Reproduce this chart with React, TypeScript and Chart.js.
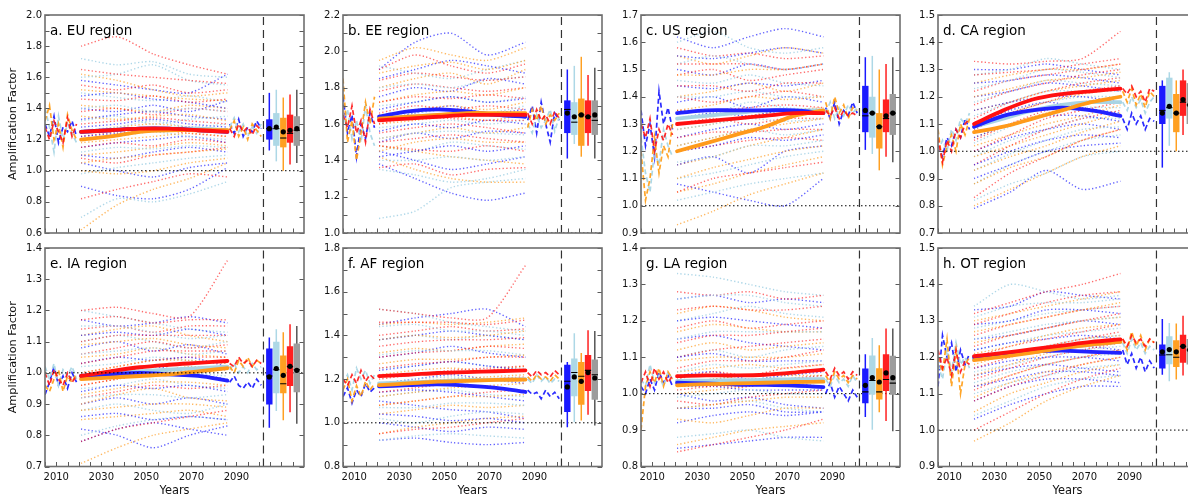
import React, { useEffect, useRef } from 'react';
import { Chart, registerables } from 'chart.js';
Chart.register(...registerables);

const FONT = '"DejaVu Sans", "Liberation Sans", sans-serif';

// ---------- shared axes / years ----------
const ENS_YEARS = [2021, 2037, 2053, 2069, 2086];
const MEAN_YEARS = [2021, 2034, 2047, 2060, 2073, 2086];
const PAST_YEARS = [2005, 2007, 2009, 2011, 2013, 2015, 2017, 2019];
const FUTURE_YEARS = [2087, 2089, 2091, 2093, 2095, 2097, 2099, 2101];
const BOX_YEARS = [2104.6, 2107.7, 2110.8, 2113.8, 2116.8];
const X_LABEL_YEARS = [2010, 2030, 2050, 2070, 2090];
const X_MIN = 2005;
const X_MAX = 2120;
const SPLIT_YEAR = 2102;

const TITLES = ['a. EU region', 'b. EE region', 'c. US region', 'd. CA region', 'e. IA region', 'f. AF region', 'g. LA region', 'h. OT region'];
const Y_MIN = [0.6, 1.0, 0.9, 0.7, 0.7, 0.8, 0.8, 0.9];
const Y_MAX = [2.0, 2.2, 1.7, 1.5, 1.4, 1.8, 1.4, 1.5];
const Y_LABEL_STEP = [0.2, 0.2, 0.1, 0.1, 0.1, 0.2, 0.1, 0.1];

// ---------- a. EU ----------
const EU_BLUE = [[1.58, 1.55, 1.52, 1.50, 1.62], [1.40, 1.38, 1.42, 1.38, 1.45], [1.28, 1.30, 1.33, 1.30, 1.28], [1.15, 1.18, 1.20, 1.22, 1.18], [1.05, 1.00, 0.96, 1.02, 1.05], [0.90, 0.84, 0.82, 0.88, 1.02], [1.48, 1.50, 1.46, 1.44, 1.40], [1.33, 1.36, 1.38, 1.35, 1.33], [1.22, 1.24, 1.26, 1.28, 1.25], [1.10, 1.08, 1.12, 1.15, 1.12]];
const EU_LBLUE = [[1.72, 1.68, 1.70, 1.62, 1.60], [1.50, 1.47, 1.45, 1.48, 1.44], [1.32, 1.35, 1.30, 1.33, 1.35], [1.20, 1.22, 1.25, 1.22, 1.20], [0.98, 1.02, 1.05, 1.08, 1.10], [0.70, 0.82, 0.80, 0.85, 0.93], [1.60, 1.62, 1.68, 1.58, 1.55], [1.40, 1.42, 1.38, 1.40, 1.38], [1.26, 1.28, 1.32, 1.28, 1.30], [1.12, 1.15, 1.14, 1.16, 1.15]];
const EU_ORANGE = [[1.62, 1.58, 1.52, 1.48, 1.50], [1.42, 1.40, 1.38, 1.42, 1.40], [1.25, 1.28, 1.30, 1.28, 1.25], [1.10, 1.12, 1.15, 1.18, 1.16], [1.00, 0.98, 1.00, 1.05, 1.08], [0.62, 0.78, 0.88, 0.95, 1.05], [1.52, 1.50, 1.48, 1.46, 1.45], [1.35, 1.33, 1.35, 1.36, 1.32], [1.18, 1.20, 1.22, 1.24, 1.22], [1.05, 1.08, 1.10, 1.12, 1.14]];
const EU_RED = [[1.80, 1.86, 1.75, 1.68, 1.62], [1.55, 1.52, 1.55, 1.50, 1.52], [1.38, 1.40, 1.36, 1.40, 1.38], [1.22, 1.25, 1.27, 1.24, 1.22], [1.08, 1.05, 1.10, 1.12, 1.15], [0.82, 0.88, 0.93, 0.98, 0.96], [1.65, 1.62, 1.60, 1.58, 1.56], [1.46, 1.45, 1.48, 1.44, 1.46], [1.30, 1.32, 1.34, 1.32, 1.30], [1.15, 1.18, 1.16, 1.20, 1.18]];
const EU_MEANS = [[1.25, 1.26, 1.27, 1.27, 1.26, 1.25], [1.25, 1.26, 1.27, 1.27, 1.27, 1.26], [1.20, 1.22, 1.25, 1.26, 1.26, 1.26], [1.25, 1.26, 1.27, 1.27, 1.26, 1.25]];
const EU_PAST = [[1.30, 1.22, 1.35, 1.18, 1.28, 1.25, 1.32, 1.22], [1.40, 1.28, 1.12, 1.35, 1.20, 1.30, 1.24, 1.18], [1.32, 1.42, 1.20, 1.30, 1.15, 1.36, 1.26, 1.20], [1.28, 1.20, 1.32, 1.25, 1.18, 1.34, 1.22, 1.30]];
const EU_FUTURE = [[1.30, 1.24, 1.33, 1.22, 1.28, 1.25, 1.32, 1.27], [1.28, 1.34, 1.25, 1.30, 1.22, 1.28, 1.24, 1.30], [1.26, 1.32, 1.22, 1.28, 1.20, 1.30, 1.26, 1.22], [1.27, 1.22, 1.30, 1.25, 1.28, 1.23, 1.29, 1.26]];
const EU_BOXES = [[1.13, 1.20, 1.27, 1.33, 1.50, 1.27], [1.06, 1.16, 1.27, 1.37, 1.52, 1.28], [1.00, 1.15, 1.21, 1.34, 1.47, 1.25], [1.04, 1.18, 1.24, 1.36, 1.49, 1.26], [1.05, 1.16, 1.26, 1.35, 1.52, 1.27]];

// ---------- b. EE ----------
const EE_BLUE = [[1.90, 2.05, 2.10, 1.98, 2.05], [1.75, 1.80, 1.78, 1.85, 1.82], [1.62, 1.66, 1.70, 1.66, 1.68], [1.50, 1.55, 1.52, 1.56, 1.55], [1.45, 1.40, 1.35, 1.38, 1.42], [1.38, 1.30, 1.22, 1.18, 1.22], [1.85, 1.90, 1.95, 1.92, 1.88], [1.68, 1.72, 1.75, 1.72, 1.74], [1.56, 1.60, 1.58, 1.62, 1.60], [1.42, 1.45, 1.48, 1.45, 1.48]];
const EE_LBLUE = [[1.92, 1.88, 1.85, 1.90, 1.95], [1.70, 1.72, 1.75, 1.72, 1.75], [1.58, 1.60, 1.62, 1.60, 1.62], [1.48, 1.45, 1.50, 1.48, 1.46], [1.35, 1.32, 1.28, 1.30, 1.35], [1.08, 1.12, 1.25, 1.28, 1.30], [1.80, 1.82, 1.80, 1.84, 1.86], [1.65, 1.66, 1.68, 1.66, 1.70], [1.52, 1.55, 1.56, 1.55, 1.54], [1.40, 1.40, 1.42, 1.40, 1.42]];
const EE_ORANGE = [[1.95, 2.02, 1.98, 1.95, 2.02], [1.80, 1.85, 1.88, 1.82, 1.90], [1.65, 1.68, 1.70, 1.68, 1.72], [1.52, 1.55, 1.58, 1.55, 1.58], [1.48, 1.45, 1.42, 1.40, 1.38], [1.42, 1.35, 1.30, 1.28, 1.28], [1.88, 1.92, 1.94, 1.90, 1.95], [1.72, 1.76, 1.78, 1.76, 1.80], [1.60, 1.62, 1.64, 1.62, 1.65], [1.45, 1.50, 1.52, 1.50, 1.50]];
const EE_RED = [[1.90, 1.98, 1.92, 1.88, 1.93], [1.78, 1.82, 1.80, 1.78, 1.80], [1.66, 1.70, 1.68, 1.70, 1.68], [1.55, 1.58, 1.60, 1.58, 1.55], [1.48, 1.46, 1.45, 1.48, 1.45], [1.36, 1.38, 1.32, 1.35, 1.36], [1.84, 1.88, 1.86, 1.84, 1.86], [1.72, 1.75, 1.74, 1.76, 1.74], [1.60, 1.64, 1.63, 1.62, 1.62], [1.50, 1.52, 1.54, 1.52, 1.50]];
const EE_MEANS = [[1.64, 1.67, 1.68, 1.67, 1.65, 1.64], [1.63, 1.64, 1.65, 1.65, 1.65, 1.65], [1.63, 1.64, 1.65, 1.66, 1.66, 1.66], [1.62, 1.63, 1.64, 1.65, 1.65, 1.65]];
const EE_PAST = [[1.75, 1.55, 1.65, 1.42, 1.60, 1.52, 1.66, 1.58], [1.60, 1.68, 1.52, 1.62, 1.50, 1.70, 1.55, 1.48], [1.85, 1.50, 1.62, 1.40, 1.55, 1.72, 1.60, 1.75], [1.65, 1.58, 1.70, 1.55, 1.62, 1.50, 1.68, 1.60]];
const EE_FUTURE = [[1.62, 1.70, 1.55, 1.72, 1.60, 1.50, 1.66, 1.62], [1.60, 1.55, 1.65, 1.58, 1.62, 1.68, 1.56, 1.64], [1.58, 1.68, 1.62, 1.70, 1.60, 1.65, 1.62, 1.66], [1.66, 1.60, 1.68, 1.62, 1.65, 1.60, 1.67, 1.63]];
const EE_BOXES = [[1.41, 1.55, 1.68, 1.73, 1.90, 1.66], [1.49, 1.54, 1.61, 1.72, 1.92, 1.64], [1.42, 1.48, 1.65, 1.74, 1.97, 1.65], [1.48, 1.55, 1.64, 1.73, 1.87, 1.64], [1.41, 1.54, 1.62, 1.73, 1.91, 1.65]];

// ---------- c. US ----------
const US_BLUE = [[1.62, 1.58, 1.62, 1.65, 1.62], [1.50, 1.48, 1.52, 1.50, 1.52], [1.38, 1.40, 1.36, 1.40, 1.38], [1.25, 1.28, 1.30, 1.28, 1.30], [1.15, 1.18, 1.12, 1.20, 1.22], [1.08, 1.05, 1.02, 1.00, 1.10], [1.55, 1.54, 1.56, 1.58, 1.56], [1.44, 1.43, 1.45, 1.44, 1.46], [1.32, 1.34, 1.33, 1.35, 1.34], [1.20, 1.22, 1.25, 1.24, 1.26]];
const US_LBLUE = [[1.60, 1.64, 1.58, 1.56, 1.58], [1.46, 1.45, 1.48, 1.45, 1.44], [1.35, 1.34, 1.38, 1.36, 1.35], [1.22, 1.25, 1.28, 1.26, 1.28], [1.10, 1.12, 1.15, 1.18, 1.20], [1.02, 1.05, 1.08, 1.10, 1.12], [1.52, 1.55, 1.52, 1.50, 1.52], [1.40, 1.40, 1.42, 1.40, 1.40], [1.28, 1.30, 1.32, 1.31, 1.32], [1.16, 1.18, 1.22, 1.22, 1.24]];
const US_ORANGE = [[1.55, 1.52, 1.55, 1.58, 1.56], [1.40, 1.42, 1.45, 1.42, 1.45], [1.28, 1.30, 1.33, 1.35, 1.36], [1.15, 1.18, 1.22, 1.25, 1.28], [1.05, 1.08, 1.12, 1.15, 1.18], [0.93, 0.98, 1.04, 1.08, 1.12], [1.48, 1.48, 1.50, 1.50, 1.52], [1.35, 1.37, 1.40, 1.39, 1.40], [1.22, 1.25, 1.28, 1.30, 1.32], [1.10, 1.14, 1.17, 1.20, 1.22]];
const US_RED = [[1.58, 1.55, 1.56, 1.54, 1.55], [1.48, 1.50, 1.46, 1.48, 1.50], [1.40, 1.38, 1.40, 1.42, 1.40], [1.30, 1.32, 1.30, 1.32, 1.32], [1.20, 1.22, 1.24, 1.25, 1.24], [1.05, 1.10, 1.12, 1.14, 1.16], [1.52, 1.52, 1.52, 1.50, 1.52], [1.44, 1.44, 1.42, 1.45, 1.45], [1.35, 1.35, 1.36, 1.37, 1.36], [1.25, 1.27, 1.27, 1.28, 1.28]];
const US_MEANS = [[1.34, 1.35, 1.35, 1.35, 1.35, 1.34], [1.32, 1.33, 1.34, 1.35, 1.35, 1.35], [1.20, 1.23, 1.26, 1.29, 1.33, 1.35], [1.30, 1.31, 1.32, 1.33, 1.34, 1.34]];
const US_PAST = [[1.35, 1.22, 1.30, 1.18, 1.42, 1.30, 1.36, 1.28], [1.25, 1.12, 1.05, 1.20, 1.15, 1.28, 1.22, 1.18], [1.20, 1.02, 1.10, 1.25, 1.12, 1.22, 1.18, 1.30], [1.30, 1.25, 1.32, 1.20, 1.28, 1.24, 1.30, 1.26]];
const US_FUTURE = [[1.36, 1.32, 1.38, 1.30, 1.35, 1.33, 1.38, 1.34], [1.34, 1.38, 1.32, 1.36, 1.33, 1.37, 1.34, 1.36], [1.38, 1.32, 1.40, 1.34, 1.37, 1.32, 1.36, 1.35], [1.35, 1.33, 1.36, 1.32, 1.35, 1.33, 1.34, 1.33]];
const US_BOXES = [[1.205, 1.27, 1.33, 1.44, 1.545, 1.35], [1.19, 1.25, 1.34, 1.40, 1.55, 1.34], [1.13, 1.21, 1.29, 1.34, 1.50, 1.29], [1.18, 1.27, 1.32, 1.39, 1.52, 1.33], [1.16, 1.26, 1.34, 1.41, 1.545, 1.34]];

// ---------- d. CA ----------
const CA_BLUE = [[1.30, 1.30, 1.32, 1.30, 1.28], [1.20, 1.22, 1.25, 1.24, 1.22], [1.10, 1.15, 1.18, 1.16, 1.14], [1.00, 1.05, 1.08, 1.10, 1.08], [0.90, 0.95, 1.00, 1.02, 1.03], [0.79, 0.85, 0.93, 0.86, 0.89], [1.25, 1.26, 1.28, 1.27, 1.25], [1.15, 1.18, 1.20, 1.20, 1.18], [1.05, 1.10, 1.13, 1.13, 1.11], [0.95, 1.00, 1.04, 1.06, 1.05]];
const CA_LBLUE = [[1.28, 1.30, 1.34, 1.32, 1.30], [1.18, 1.22, 1.26, 1.25, 1.24], [1.08, 1.14, 1.18, 1.20, 1.20], [0.98, 1.04, 1.08, 1.12, 1.12], [0.88, 0.95, 1.00, 1.04, 1.06], [0.82, 0.88, 0.92, 0.98, 1.00], [1.23, 1.26, 1.30, 1.29, 1.27], [1.13, 1.18, 1.22, 1.22, 1.22], [1.03, 1.09, 1.13, 1.16, 1.16], [0.93, 0.99, 1.04, 1.08, 1.09]];
const CA_ORANGE = [[1.25, 1.28, 1.30, 1.30, 1.32], [1.15, 1.18, 1.22, 1.24, 1.26], [1.05, 1.10, 1.14, 1.17, 1.20], [0.98, 1.02, 1.06, 1.10, 1.14], [0.88, 0.94, 0.98, 1.04, 1.08], [0.80, 0.86, 0.92, 0.98, 1.02], [1.20, 1.23, 1.26, 1.27, 1.29], [1.10, 1.14, 1.18, 1.21, 1.23], [1.02, 1.06, 1.10, 1.13, 1.17], [0.93, 0.98, 1.02, 1.07, 1.11]];
const CA_RED = [[1.33, 1.32, 1.33, 1.34, 1.44], [1.22, 1.26, 1.28, 1.30, 1.32], [1.12, 1.18, 1.22, 1.25, 1.27], [1.04, 1.10, 1.15, 1.18, 1.20], [0.95, 1.02, 1.08, 1.12, 1.15], [0.83, 0.92, 0.98, 1.04, 1.08], [1.28, 1.29, 1.30, 1.32, 1.34], [1.17, 1.22, 1.25, 1.28, 1.30], [1.08, 1.14, 1.18, 1.22, 1.24], [1.00, 1.06, 1.12, 1.15, 1.18]];
const CA_MEANS = [[1.09, 1.13, 1.15, 1.16, 1.15, 1.13], [1.09, 1.12, 1.15, 1.17, 1.18, 1.18], [1.07, 1.09, 1.12, 1.15, 1.18, 1.20], [1.10, 1.15, 1.19, 1.21, 1.22, 1.23]];
const CA_PAST = [[1.02, 0.98, 1.05, 1.02, 1.08, 1.05, 1.12, 1.08], [1.00, 1.04, 1.00, 1.08, 1.04, 1.12, 1.10, 1.14], [1.08, 0.95, 1.02, 1.06, 1.00, 1.10, 1.06, 1.12], [1.05, 0.96, 1.04, 1.00, 1.08, 1.05, 1.10, 1.12]];
const CA_FUTURE = [[1.12, 1.08, 1.14, 1.10, 1.13, 1.08, 1.12, 1.11], [1.18, 1.15, 1.20, 1.16, 1.19, 1.14, 1.18, 1.20], [1.22, 1.18, 1.23, 1.17, 1.21, 1.16, 1.22, 1.20], [1.23, 1.21, 1.24, 1.20, 1.22, 1.18, 1.23, 1.22]];
const CA_BOXES = [[0.94, 1.10, 1.15, 1.24, 1.26, 1.14], [1.02, 1.12, 1.16, 1.27, 1.29, 1.165], [1.00, 1.07, 1.14, 1.21, 1.26, 1.14], [1.06, 1.13, 1.18, 1.26, 1.30, 1.19], [0.98, 1.10, 1.17, 1.25, 1.34, 1.17]];

// ---------- e. IA ----------
const IA_BLUE = [[1.17, 1.15, 1.16, 1.18, 1.16], [1.08, 1.10, 1.07, 1.09, 1.06], [0.98, 1.00, 1.02, 1.00, 0.98], [0.90, 0.92, 0.90, 0.92, 0.90], [0.82, 0.80, 0.76, 0.80, 0.83], [0.78, 0.82, 0.84, 0.82, 0.80], [1.12, 1.13, 1.12, 1.14, 1.12], [1.03, 1.05, 1.04, 1.05, 1.02], [0.94, 0.96, 0.95, 0.96, 0.94], [0.86, 0.87, 0.85, 0.86, 0.85]];
const IA_LBLUE = [[1.20, 1.18, 1.16, 1.14, 1.13], [1.10, 1.12, 1.10, 1.08, 1.10], [1.02, 1.03, 1.05, 1.04, 1.03], [0.95, 0.96, 0.98, 0.96, 0.95], [0.88, 0.90, 0.88, 0.87, 0.90], [0.80, 0.83, 0.85, 0.86, 0.85], [1.15, 1.15, 1.13, 1.11, 1.12], [1.06, 1.07, 1.08, 1.06, 1.07], [0.98, 1.00, 1.01, 1.00, 0.99], [0.92, 0.93, 0.93, 0.92, 0.93]];
const IA_ORANGE = [[1.12, 1.14, 1.15, 1.12, 1.10], [1.05, 1.06, 1.08, 1.06, 1.05], [0.96, 0.98, 1.00, 1.02, 1.01], [0.90, 0.93, 0.95, 0.92, 0.91], [0.85, 0.86, 0.87, 0.88, 0.86], [0.71, 0.76, 0.80, 0.82, 0.84], [1.09, 1.10, 1.11, 1.09, 1.08], [1.00, 1.02, 1.04, 1.04, 1.03], [0.93, 0.95, 0.97, 0.97, 0.96], [0.88, 0.89, 0.90, 0.90, 0.89]];
const IA_RED = [[1.20, 1.21, 1.19, 1.18, 1.36], [1.14, 1.15, 1.13, 1.15, 1.15], [1.06, 1.08, 1.10, 1.08, 1.09], [1.00, 1.02, 1.04, 1.05, 1.05], [0.92, 0.94, 0.96, 0.95, 0.96], [0.78, 0.82, 0.84, 0.86, 0.88], [1.17, 1.18, 1.16, 1.17, 1.17], [1.10, 1.12, 1.12, 1.12, 1.12], [1.03, 1.05, 1.07, 1.07, 1.07], [0.96, 0.98, 1.00, 1.01, 1.01]];
const IA_MEANS = [[0.99, 0.995, 1.0, 0.995, 0.99, 0.975], [0.99, 1.0, 1.005, 1.01, 1.015, 1.02], [0.98, 0.985, 0.99, 0.995, 1.005, 1.015], [0.99, 1.005, 1.018, 1.026, 1.032, 1.038]];
const IA_PAST = [[0.93, 0.97, 1.02, 0.96, 0.99, 0.95, 1.00, 0.97], [1.02, 0.98, 1.03, 0.96, 1.01, 0.99, 1.02, 0.98], [0.96, 0.94, 0.98, 1.01, 0.94, 0.99, 0.97, 1.00], [1.00, 0.96, 1.01, 0.98, 0.96, 1.00, 0.97, 0.99]];
const IA_FUTURE = [[0.97, 0.99, 0.96, 0.95, 0.97, 0.95, 0.98, 0.96], [1.01, 1.03, 1.00, 1.02, 1.00, 1.03, 1.01, 1.02], [1.02, 1.00, 1.04, 1.02, 1.05, 1.02, 1.04, 1.03], [1.03, 1.02, 1.05, 1.03, 1.04, 1.02, 1.04, 1.03]];
const IA_BOXES = [[0.824, 0.899, 0.99, 1.078, 1.113, 0.987], [0.878, 0.935, 1.01, 1.10, 1.14, 1.014], [0.848, 0.935, 0.965, 1.056, 1.13, 0.992], [0.874, 0.958, 1.02, 1.085, 1.156, 1.021], [0.837, 0.938, 1.01, 1.094, 1.15, 1.008]];

// ---------- f. AF ----------
const AF_BLUE = [[1.45, 1.48, 1.50, 1.52, 1.44], [1.30, 1.32, 1.35, 1.32, 1.30], [1.18, 1.20, 1.22, 1.20, 1.18], [1.10, 1.08, 1.06, 1.05, 1.02], [1.00, 0.98, 0.96, 0.98, 0.97], [0.92, 0.93, 0.91, 0.90, 0.91], [1.38, 1.40, 1.42, 1.40, 1.38], [1.24, 1.26, 1.28, 1.26, 1.24], [1.14, 1.15, 1.14, 1.12, 1.10], [1.04, 1.03, 1.01, 1.02, 1.00]];
const AF_LBLUE = [[1.52, 1.50, 1.46, 1.44, 1.42], [1.38, 1.40, 1.38, 1.40, 1.38], [1.25, 1.26, 1.28, 1.26, 1.25], [1.12, 1.14, 1.15, 1.13, 1.12], [1.02, 1.00, 1.03, 1.05, 1.04], [0.92, 0.94, 0.95, 0.94, 0.93], [1.44, 1.45, 1.42, 1.42, 1.40], [1.31, 1.33, 1.33, 1.33, 1.31], [1.18, 1.20, 1.21, 1.20, 1.19], [1.07, 1.07, 1.09, 1.09, 1.08]];
const AF_ORANGE = [[1.45, 1.46, 1.45, 1.46, 1.48], [1.32, 1.34, 1.33, 1.35, 1.36], [1.22, 1.24, 1.25, 1.24, 1.26], [1.12, 1.14, 1.16, 1.17, 1.18], [1.04, 1.06, 1.08, 1.07, 1.08], [0.95, 0.98, 1.00, 1.02, 1.03], [1.38, 1.40, 1.39, 1.40, 1.42], [1.27, 1.29, 1.29, 1.30, 1.31], [1.17, 1.19, 1.20, 1.21, 1.22], [1.08, 1.10, 1.12, 1.12, 1.13]];
const AF_RED = [[1.52, 1.50, 1.48, 1.48, 1.72], [1.40, 1.42, 1.44, 1.42, 1.43], [1.30, 1.32, 1.33, 1.35, 1.34], [1.20, 1.22, 1.24, 1.25, 1.26], [1.08, 1.10, 1.12, 1.14, 1.15], [0.95, 0.97, 0.98, 1.00, 1.02], [1.46, 1.46, 1.46, 1.45, 1.47], [1.35, 1.37, 1.38, 1.38, 1.39], [1.25, 1.27, 1.28, 1.30, 1.30], [1.14, 1.16, 1.18, 1.20, 1.21]];
const AF_MEANS = [[1.167, 1.172, 1.176, 1.17, 1.16, 1.141], [1.18, 1.185, 1.19, 1.195, 1.198, 1.20], [1.172, 1.18, 1.188, 1.192, 1.196, 1.198], [1.214, 1.22, 1.228, 1.232, 1.236, 1.24]];
const AF_PAST = [[1.12, 1.16, 1.09, 1.15, 1.12, 1.18, 1.14, 1.16], [1.18, 1.22, 1.15, 1.25, 1.20, 1.24, 1.18, 1.22], [1.15, 1.20, 1.10, 1.17, 1.12, 1.19, 1.15, 1.18], [1.20, 1.17, 1.22, 1.18, 1.24, 1.19, 1.22, 1.20]];
const AF_FUTURE = [[1.15, 1.13, 1.14, 1.11, 1.15, 1.12, 1.14, 1.11], [1.20, 1.18, 1.22, 1.19, 1.21, 1.18, 1.20, 1.19], [1.21, 1.19, 1.22, 1.20, 1.21, 1.19, 1.22, 1.20], [1.23, 1.21, 1.24, 1.22, 1.23, 1.21, 1.24, 1.22]];
const AF_BOXES = [[0.98, 1.05, 1.19, 1.266, 1.278, 1.164], [1.003, 1.121, 1.23, 1.294, 1.41, 1.21], [1.01, 1.083, 1.213, 1.278, 1.32, 1.19], [1.037, 1.145, 1.24, 1.31, 1.424, 1.23], [0.988, 1.106, 1.22, 1.29, 1.42, 1.205]];

// ---------- g. LA ----------
const LA_BLUE = [[1.26, 1.27, 1.25, 1.26, 1.25], [1.15, 1.16, 1.14, 1.13, 1.12], [1.05, 1.06, 1.04, 1.05, 1.06], [1.00, 0.98, 0.99, 0.97, 0.96], [0.92, 0.94, 0.95, 0.94, 0.95], [0.85, 0.86, 0.87, 0.88, 0.88], [1.20, 1.21, 1.20, 1.19, 1.18], [1.10, 1.11, 1.09, 1.09, 1.09], [1.02, 1.02, 1.01, 1.01, 1.01], [0.96, 0.96, 0.97, 0.95, 0.95]];
const LA_LBLUE = [[1.33, 1.32, 1.30, 1.28, 1.27], [1.20, 1.22, 1.24, 1.22, 1.21], [1.10, 1.12, 1.10, 1.12, 1.13], [1.03, 1.04, 1.05, 1.04, 1.05], [0.96, 0.97, 0.98, 0.96, 0.95], [0.88, 0.89, 0.90, 0.88, 0.87], [1.26, 1.27, 1.27, 1.25, 1.24], [1.15, 1.17, 1.17, 1.17, 1.17], [1.06, 1.08, 1.07, 1.08, 1.09], [0.99, 1.00, 1.01, 1.00, 1.00]];
const LA_ORANGE = [[1.22, 1.24, 1.23, 1.21, 1.20], [1.12, 1.14, 1.12, 1.13, 1.14], [1.06, 1.07, 1.08, 1.07, 1.08], [1.00, 1.01, 1.02, 1.03, 1.02], [0.93, 0.92, 0.94, 0.96, 0.96], [0.86, 0.88, 0.90, 0.91, 0.92], [1.17, 1.19, 1.18, 1.17, 1.17], [1.09, 1.10, 1.10, 1.10, 1.11], [1.03, 1.04, 1.05, 1.05, 1.05], [0.96, 0.97, 0.98, 0.99, 0.99]];
const LA_RED = [[1.28, 1.27, 1.28, 1.26, 1.27], [1.18, 1.20, 1.18, 1.19, 1.20], [1.10, 1.12, 1.13, 1.14, 1.15], [1.04, 1.06, 1.05, 1.07, 1.08], [0.98, 0.97, 0.99, 1.00, 1.01], [0.84, 0.86, 0.88, 0.90, 0.93], [1.23, 1.24, 1.23, 1.23, 1.24], [1.14, 1.16, 1.16, 1.17, 1.18], [1.07, 1.09, 1.09, 1.10, 1.12], [1.01, 1.02, 1.02, 1.04, 1.05]];
const LA_MEANS = [[1.03, 1.028, 1.025, 1.024, 1.022, 1.018], [1.035, 1.036, 1.037, 1.038, 1.04, 1.04], [1.023, 1.026, 1.028, 1.03, 1.032, 1.033], [1.048, 1.05, 1.05, 1.052, 1.058, 1.066]];
const LA_PAST = [[1.02, 1.00, 1.04, 1.01, 1.06, 1.03, 1.05, 1.02], [1.04, 1.02, 1.08, 1.03, 1.05, 1.02, 1.06, 1.04], [0.90, 1.02, 1.06, 1.03, 1.07, 1.02, 1.06, 1.04], [1.03, 1.06, 1.02, 1.07, 1.04, 1.06, 1.03, 1.05]];
const LA_FUTURE = [[1.00, 1.03, 0.99, 1.02, 1.00, 0.98, 1.01, 0.99], [1.04, 1.02, 1.05, 1.03, 1.04, 1.02, 1.05, 1.03], [1.05, 1.03, 1.06, 1.04, 1.05, 1.03, 1.05, 1.04], [1.06, 1.04, 1.07, 1.05, 1.06, 1.04, 1.06, 1.05]];
const LA_BOXES = [[0.936, 0.974, 1.005, 1.069, 1.108, 1.023], [0.901, 0.998, 1.036, 1.105, 1.153, 1.044], [0.949, 0.984, 1.005, 1.07, 1.133, 1.032], [0.925, 1.007, 1.039, 1.108, 1.179, 1.057], [0.897, 0.997, 1.029, 1.104, 1.179, 1.044]];

// ---------- h. OT ----------
const OT_BLUE = [[1.33, 1.34, 1.38, 1.37, 1.36], [1.25, 1.26, 1.28, 1.30, 1.29], [1.20, 1.21, 1.22, 1.23, 1.22], [1.15, 1.17, 1.18, 1.17, 1.16], [1.08, 1.12, 1.14, 1.14, 1.13], [1.03, 1.07, 1.10, 1.12, 1.12], [1.29, 1.30, 1.33, 1.33, 1.32], [1.22, 1.24, 1.25, 1.26, 1.25], [1.17, 1.19, 1.20, 1.20, 1.19], [1.12, 1.14, 1.16, 1.16, 1.15]];
const OT_LBLUE = [[1.34, 1.40, 1.38, 1.36, 1.37], [1.28, 1.30, 1.32, 1.33, 1.34], [1.22, 1.24, 1.26, 1.27, 1.28], [1.16, 1.18, 1.20, 1.22, 1.23], [1.10, 1.13, 1.15, 1.17, 1.18], [1.04, 1.08, 1.12, 1.14, 1.15], [1.31, 1.34, 1.35, 1.35, 1.36], [1.25, 1.27, 1.29, 1.30, 1.31], [1.19, 1.21, 1.23, 1.25, 1.26], [1.13, 1.16, 1.18, 1.20, 1.21]];
const OT_ORANGE = [[1.30, 1.32, 1.34, 1.36, 1.38], [1.24, 1.26, 1.28, 1.30, 1.31], [1.18, 1.21, 1.23, 1.25, 1.26], [1.12, 1.15, 1.18, 1.20, 1.22], [1.05, 1.10, 1.13, 1.16, 1.18], [0.97, 1.02, 1.08, 1.12, 1.15], [1.27, 1.29, 1.31, 1.33, 1.35], [1.21, 1.23, 1.26, 1.28, 1.29], [1.15, 1.18, 1.21, 1.23, 1.24], [1.09, 1.13, 1.16, 1.18, 1.20]];
const OT_RED = [[1.32, 1.35, 1.38, 1.40, 1.43], [1.26, 1.29, 1.31, 1.33, 1.34], [1.20, 1.23, 1.25, 1.27, 1.29], [1.14, 1.17, 1.20, 1.22, 1.24], [1.08, 1.12, 1.15, 1.18, 1.20], [1.00, 1.05, 1.10, 1.14, 1.17], [1.29, 1.32, 1.35, 1.37, 1.38], [1.23, 1.26, 1.28, 1.30, 1.32], [1.17, 1.20, 1.23, 1.25, 1.27], [1.11, 1.15, 1.18, 1.20, 1.22]];
const OT_MEANS = [[1.20, 1.208, 1.215, 1.218, 1.215, 1.212], [1.195, 1.205, 1.215, 1.225, 1.235, 1.242], [1.192, 1.202, 1.213, 1.225, 1.235, 1.242], [1.203, 1.212, 1.222, 1.232, 1.242, 1.249]];
const OT_PAST = [[1.12, 1.26, 1.20, 1.24, 1.16, 1.22, 1.18, 1.21], [1.18, 1.14, 1.22, 1.16, 1.24, 1.18, 1.20, 1.17], [1.20, 1.16, 1.25, 1.12, 1.22, 1.10, 1.18, 1.20], [1.22, 1.17, 1.20, 1.15, 1.22, 1.16, 1.19, 1.18]];
const OT_FUTURE = [[1.22, 1.18, 1.21, 1.17, 1.20, 1.16, 1.19, 1.17], [1.24, 1.21, 1.25, 1.22, 1.24, 1.21, 1.23, 1.22], [1.25, 1.22, 1.27, 1.23, 1.26, 1.22, 1.25, 1.24], [1.25, 1.23, 1.26, 1.24, 1.25, 1.23, 1.25, 1.24]];
const OT_BOXES = [[1.152, 1.169, 1.206, 1.235, 1.305, 1.215], [1.134, 1.181, 1.207, 1.258, 1.294, 1.221], [1.139, 1.173, 1.20, 1.247, 1.293, 1.215], [1.15, 1.185, 1.23, 1.262, 1.314, 1.23], [1.14, 1.18, 1.22, 1.25, 1.30, 1.22]];

const ENSEMBLES = [
  [EU_BLUE, EU_LBLUE, EU_ORANGE, EU_RED], [EE_BLUE, EE_LBLUE, EE_ORANGE, EE_RED],
  [US_BLUE, US_LBLUE, US_ORANGE, US_RED], [CA_BLUE, CA_LBLUE, CA_ORANGE, CA_RED],
  [IA_BLUE, IA_LBLUE, IA_ORANGE, IA_RED], [AF_BLUE, AF_LBLUE, AF_ORANGE, AF_RED],
  [LA_BLUE, LA_LBLUE, LA_ORANGE, LA_RED], [OT_BLUE, OT_LBLUE, OT_ORANGE, OT_RED],
];
const MEANS = [EU_MEANS, EE_MEANS, US_MEANS, CA_MEANS, IA_MEANS, AF_MEANS, LA_MEANS, OT_MEANS];
const PASTS = [EU_PAST, EE_PAST, US_PAST, CA_PAST, IA_PAST, AF_PAST, LA_PAST, OT_PAST];
const FUTURES = [EU_FUTURE, EE_FUTURE, US_FUTURE, CA_FUTURE, IA_FUTURE, AF_FUTURE, LA_FUTURE, OT_FUTURE];
const BOXES = [EU_BOXES, EE_BOXES, US_BOXES, CA_BOXES, IA_BOXES, AF_BOXES, LA_BOXES, OT_BOXES];

// ---------- styles ----------
const ENS_COLORS = ['rgba(0,0,255,0.62)', 'rgba(160,208,228,0.85)', 'rgba(255,150,20,0.68)', 'rgba(255,0,0,0.58)'];
const HIST_COLORS = ['rgba(20,20,255,0.9)', 'rgba(173,216,230,1)', 'rgba(255,160,30,0.95)', 'rgba(255,20,20,0.9)'];
const MEAN_COLORS = ['#2222ff', '#a8d4e4', '#ff9a1a', '#ff1010'];
const MEAN_ORDER = [1, 0, 2, 3];
const BOX_COLORS = ['#1a1aff', '#add8e6', '#ffa022', '#ff2020', '#9c9c9c'];
const WHISKER_COLORS = ['#1a1aff', '#add8e6', '#ffa022', '#ff2020', '#555555'];

const COL_LEFT = [45, 343, 641, 938];
const ROW_TOP = [15, 248];
const PLOT_W = 261;
const PLOT_H = [218, 218.5];
const AXIS_W = 45;
const XAXIS_H = [10, 36.5];

const pts = (xs: number[], ys: number[]) => xs.map((x, i) => ({ x, y: ys[i] }));

function line(data: any[], o: any) {
  return { type: 'line', data, pointRadius: 0, fill: false, tension: 0, borderCapStyle: 'butt', ...o };
}

function buildDatasets(idx: number) {
  const layers: any[] = [];
  const ymin = Y_MIN[idx], ymax = Y_MAX[idx];
  // historical / late-century dashed series
  for (let c = 0; c < 4; c++) {
    layers.push(line(pts(PAST_YEARS, PASTS[idx][c]), { borderColor: HIST_COLORS[c], borderWidth: 1.7, borderDash: [5, 3] }));
    layers.push(line(pts(FUTURE_YEARS, FUTURES[idx][c]), { borderColor: HIST_COLORS[c], borderWidth: 1.7, borderDash: [5, 3] }));
  }
  // ensemble members (dotted)
  const ens = ENSEMBLES[idx];
  const nRows = Math.max(...ens.map((g) => g.length));
  for (let k = 0; k < nRows; k++) {
    for (let c = 0; c < 4; c++) {
      const row = ens[c][k];
      if (!row) continue;
      layers.push(line(pts(ENS_YEARS, row), { borderColor: ENS_COLORS[c], borderWidth: 1.4, borderDash: [1.3, 2.3], tension: 0.25 }));
    }
  }
  // ensemble means (thick)
  for (const c of MEAN_ORDER) {
    layers.push(line(pts(MEAN_YEARS, MEANS[idx][c]), { borderColor: MEAN_COLORS[c], borderWidth: 3.8, tension: 0.35, borderCapStyle: 'round' }));
  }
  // reference line at 1.0 and the split line
  layers.push(line([{ x: X_MIN, y: 1 }, { x: X_MAX, y: 1 }], { borderColor: '#000', borderWidth: 1, borderDash: [1.5, 2.5] }));
  layers.push(line([{ x: SPLIT_YEAR, y: ymin }, { x: SPLIT_YEAR, y: ymax }], { borderColor: '#333', borderWidth: 1.2, borderDash: [8, 5] }));
  // box plots: [min, q1, median, q3, max, mean]
  BOXES[idx].forEach((b, i) => {
    const x = BOX_YEARS[i];
    layers.push(line([{ x, y: b[0] }, { x, y: b[4] }], { borderColor: WHISKER_COLORS[i], borderWidth: 1.5 }));
    layers.push(line([{ x, y: b[1] }, { x, y: b[3] }], { borderColor: BOX_COLORS[i], borderWidth: 6.4 }));
    layers.push(line([{ x: x - 1.4, y: b[2] }, { x: x + 1.4, y: b[2] }], { borderColor: '#000', borderWidth: 1.1 }));
    layers.push(line([{ x, y: b[5] }], { showLine: false, pointRadius: 2.6, pointBackgroundColor: '#000', pointBorderColor: '#000', pointBorderWidth: 0 }));
  });
  // Chart.js paints dataset 0 last (on top), so reverse the bottom-to-top list
  return layers.reverse();
}

const decorPlugin = {
  id: 'panelDecor',
  afterDatasetsDraw(chart: any, _args: any, opts: any) {
    const { ctx, chartArea, scales } = chart;
    const { left, right, top, bottom } = chartArea;
    const x = scales.x, y = scales.y;
    ctx.save();
    ctx.strokeStyle = '#5a5a5a';
    ctx.lineWidth = 1;
    ctx.beginPath();
    for (let v = X_MIN; v < X_MAX; v += 5) {
      const px = Math.round(x.getPixelForValue(v)) + 0.5;
      ctx.moveTo(px, bottom);
      ctx.lineTo(px, bottom - 4.5);
    }
    const n = Math.round((opts.ymax - opts.ymin) / 0.1);
    for (let i = 0; i <= n; i++) {
      const py = Math.round(y.getPixelForValue(opts.ymin + i * 0.1)) + 0.5;
      ctx.moveTo(left, py);
      ctx.lineTo(left + 4.5, py);
      ctx.moveTo(right, py);
      ctx.lineTo(right - 4.5, py);
    }
    ctx.stroke();
    ctx.strokeStyle = '#6e6e6e';
    ctx.lineWidth = 1.6;
    ctx.strokeRect(left, top, right - left, bottom - top);
    ctx.fillStyle = '#000';
    ctx.font = `13.5px ${FONT}`;
    ctx.textBaseline = 'alphabetic';
    ctx.textAlign = 'left';
    ctx.fillText(opts.title, left + 5, top + 19.7);
    ctx.restore();
  },
};

function yLabels(idx: number) {
  const out: number[] = [];
  const n = Math.round((Y_MAX[idx] - Y_MIN[idx]) / Y_LABEL_STEP[idx]);
  for (let i = 0; i <= n; i++) out.push(+(Y_MIN[idx] + i * Y_LABEL_STEP[idx]).toFixed(2));
  return out;
}

function Panel({ idx }: { idx: number }) {
  const ref = useRef<HTMLCanvasElement>(null);
  const col = idx % 4;
  const row = Math.floor(idx / 4);
  const width = AXIS_W + PLOT_W + 2;
  const height = 15 + PLOT_H[row] + XAXIS_H[row];
  useEffect(() => {
    const labels = yLabels(idx);
    const chart = new Chart(ref.current as HTMLCanvasElement, {
      type: 'line',
      data: { datasets: buildDatasets(idx) as any },
      options: {
        animation: false,
        responsive: false,
        events: [],
        layout: { padding: { top: 15, right: 2, left: 0, bottom: 0 } },
        plugins: {
          legend: { display: false },
          tooltip: { enabled: false },
          panelDecor: { title: TITLES[idx], ymin: Y_MIN[idx], ymax: Y_MAX[idx] },
        } as any,
        scales: {
          x: {
            type: 'linear',
            min: X_MIN,
            max: X_MAX,
            offset: false,
            grid: { display: false, drawTicks: false },
            border: { display: false },
            afterBuildTicks: (s: any) => { s.ticks = X_LABEL_YEARS.map((v) => ({ value: v })); },
            afterFit: (s: any) => { s.height = XAXIS_H[row]; },
            ticks: {
              display: row === 1,
              padding: 4.5,
              color: '#111',
              autoSkip: false,
              maxRotation: 0,
              font: { family: FONT, size: 10 },
              callback: (v: any) => String(v),
            },
            title: {
              display: row === 1,
              text: 'Years',
              color: '#111',
              font: { family: FONT, size: 11.4 },
              padding: { top: 0, bottom: 4.9 },
            },
          },
          y: {
            type: 'linear',
            min: Y_MIN[idx],
            max: Y_MAX[idx],
            grid: { display: false, drawTicks: false },
            border: { display: false },
            afterBuildTicks: (s: any) => { s.ticks = labels.map((v) => ({ value: v })); },
            afterFit: (s: any) => { s.width = AXIS_W; },
            ticks: {
              padding: 3,
              color: '#111',
              autoSkip: false,
              font: { family: FONT, size: 10 },
              callback: (v: any) => Number(v).toFixed(1),
            },
            title: {
              display: col === 0,
              text: 'Amplification Factor',
              color: '#111',
              font: { family: FONT, size: 11.3 },
              padding: { top: 6.4, bottom: 0 },
            },
          },
        },
      } as any,
      plugins: [decorPlugin as any],
    });
    return () => chart.destroy();
  }, [idx]);
  return (
    <canvas
      ref={ref}
      width={width}
      height={height}
      style={{ position: 'absolute', left: COL_LEFT[col] - AXIS_W, top: ROW_TOP[row] - 15, width, height }}
    />
  );
}

export default function App() {
  return (
    <div style={{ position: 'fixed', left: 0, top: 0, width: 1188, height: 494, overflow: 'hidden', background: '#fff' }}>
      {[0, 1, 2, 3, 4, 5, 6, 7].map((i) => (
        <Panel key={i} idx={i} />
      ))}
    </div>
  );
}
